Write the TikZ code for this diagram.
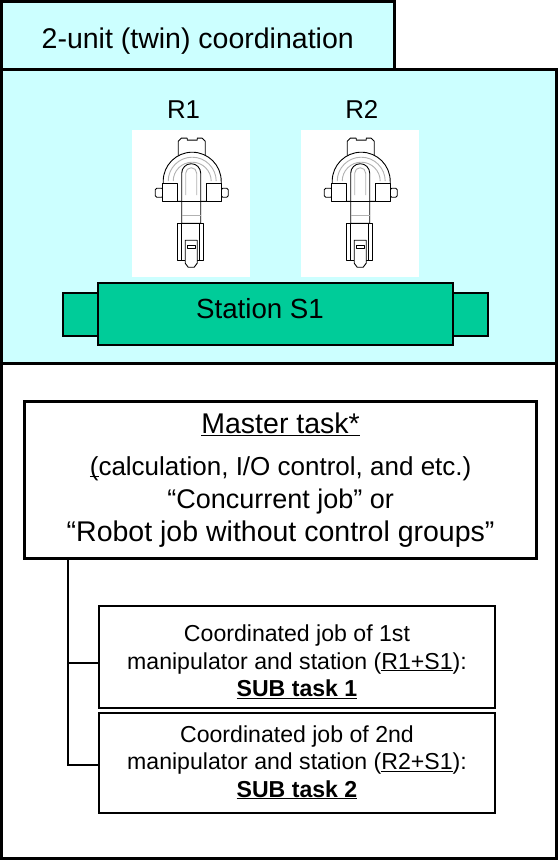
\documentclass[tikz,border=0pt]{standalone}
\usepackage{fontspec}
\setmainfont{Liberation Sans}
\usepackage{tikz}
\usetikzlibrary{positioning, calc}
\definecolor{panelfill}{HTML}{CCFFFF}
\definecolor{stationfill}{HTML}{00CC99}
\newcommand\lined[1]{\underline{\smash{#1}}}
\newcommand\upstrut[1]{\rule{0pt}{#1pt}}
\newcommand\downstrut[1]{\rule[-#1pt]{0pt}{#1pt}}

\begin{document}
\begin{tikzpicture}[x=1pt, y=-1pt,
		panel/.style={draw, line width=3pt, inner sep=0pt, outer sep=0pt, anchor=north west},
		task/.style={draw, line width=2.3pt, fill=white, inner sep=0pt, outer sep=0pt, align=center},
		bay/.style={fill=white, inner sep=0pt, anchor=north west, minimum width=118, minimum height=147},
		slab/.style={draw, line width=2.5pt, fill=stationfill, inner sep=0pt},
		robotarm/.pic={
			\begin{scope}[line width=0.9pt, line join=round]
			% top cap and shoulder dome
			\filldraw[fill=white] (-13,-44) -- (-13,-59) -- (-10,-62) -- (-4,-62) -- (-4,-60) -- (6,-60) -- (6,-62) -- (11,-62) -- (14,-59) -- (14,-44) -- cycle;
			\filldraw[fill=white] (-28,1) -- (-28,-19) arc[start angle=180, end angle=360, radius=29] -- (30,1) -- cycle;
			\draw[gray!60] (-23,-19) arc[start angle=180, end angle=360, radius=24];
			\draw[gray!60] (-18,-19) arc[start angle=180, end angle=360, radius=19];
			% side motors
			\filldraw[fill=white, rounded corners=1.5pt] (-36,-12) rectangle (-28,-3);
			\filldraw[fill=white, rounded corners=1.5pt] (30,-12) rectangle (37,-3);
			\filldraw[fill=white] (-29,-17) rectangle (-14,1);
			\filldraw[fill=white] (15,-17) rectangle (30,1);
			% arm
			\filldraw[fill=white] (-9.5,23) -- (-9.5,-27) arc[start angle=180, end angle=360, radius=9.5] -- (9.5,23) -- cycle;
			\draw[gray!60] (-5.5,-5) -- (-5.5,-27) arc[start angle=180, end angle=360, radius=5.5] -- (5.5,-5);
			\draw (-14,1) -- (15,1);
			\draw[gray!60] (-9.5,15) -- (9.5,15);
			% wrist and tool
			\filldraw[fill=white] (-14,23) rectangle (12.5,60);
			\draw (-9.5,23) -- (-9.5,60) (8.5,23) -- (8.5,60);
			\filldraw[fill=white] (-6,40) -- (-6,63) -- (-3,67) -- (3,67) -- (6,63) -- (6,40) -- cycle;
			\draw (-4,45) rectangle (4,48.5);
			\end{scope}
		}]
		\useasboundingbox (0,0) rectangle (558,861);

		\node (cell) [panel, fill=panelfill, minimum width=555, minimum height=294] at (1.5,69.5) {};
		\node (jobs) [panel, fill=white, minimum width=555, minimum height=494.5] at (1.5,363.5) {};
		\node (head) [panel, fill=panelfill, minimum width=392.5, minimum height=68,
			font=\fontsize{28.5}{34}\selectfont] at (1.5,1.5) {\upstrut{31.6}2-unit (twin) coordination\downstrut{6}};

		% robots
		\node (bay1) [bay] at (132,130) {};
		\node (bay2) [bay] at (301,130) {};
		\pic at ([yshift=3.5pt]bay1.center) {robotarm};
		\pic at ([yshift=3.5pt]bay2.center) {robotarm};
		\node (r1) [anchor=base, font=\fontsize{25.8}{30}\selectfont] at (183.6,119) {R1};
		\node (r2) [anchor=base, font=\fontsize{25.8}{30}\selectfont] at (361.8,119) {R2};

		% station
		\node (lend) [slab, minimum width=35, minimum height=43] at (80.5,314.5) {};
		\node (rend) [slab, minimum width=35, minimum height=43] at (470.5,314.5) {};
		\node (station) [slab, minimum width=355, minimum height=62] at (275.5,314) {};
		\node (stationname) [anchor=base, font=\fontsize{27.7}{32}\selectfont] at (260,318) {Station S1};

		% tasks
		\node (master) [task, line width=3pt, minimum width=512, minimum height=157.5,
			font=\fontsize{28.5}{33.3}\selectfont] at (280.6,480.2)
			{\upstrut{22.6}\lined{Master task*}\\[8.4pt]
			{\fontsize{26}{33.3}\selectfont\lined{(}calculation, I/O control, and etc.)}\\
			{\fontsize{27}{33.3}\selectfont “Concurrent job” or}\\
			“Robot job without control groups”\downstrut{8}};
		\node (sub1) [task, minimum width=396, minimum height=102,
			font=\fontsize{23.1}{27.5}\selectfont] at (297,657)
			{\upstrut{30.4}Coordinated job of 1st\\manipulator and station (\lined{R1+S1}):\\\textbf{\lined{SUB task 1}}\downstrut{6}};
		\node (sub2) [task, minimum width=396, minimum height=100,
			font=\fontsize{23.1}{27.5}\selectfont] at (297,762.8)
			{\upstrut{19.4}Coordinated job of 2nd\\manipulator and station (\lined{R2+S1}):\\\textbf{\lined{SUB task 2}}\downstrut{6}};

		\coordinate (tap) at ([xshift=43.4pt]master.south west);
		\draw[line width=2pt] (tap) |- ([yshift=-6pt]sub1.west) (tap) |- ([yshift=-2pt]sub2.west);
\end{tikzpicture}
\end{document}
